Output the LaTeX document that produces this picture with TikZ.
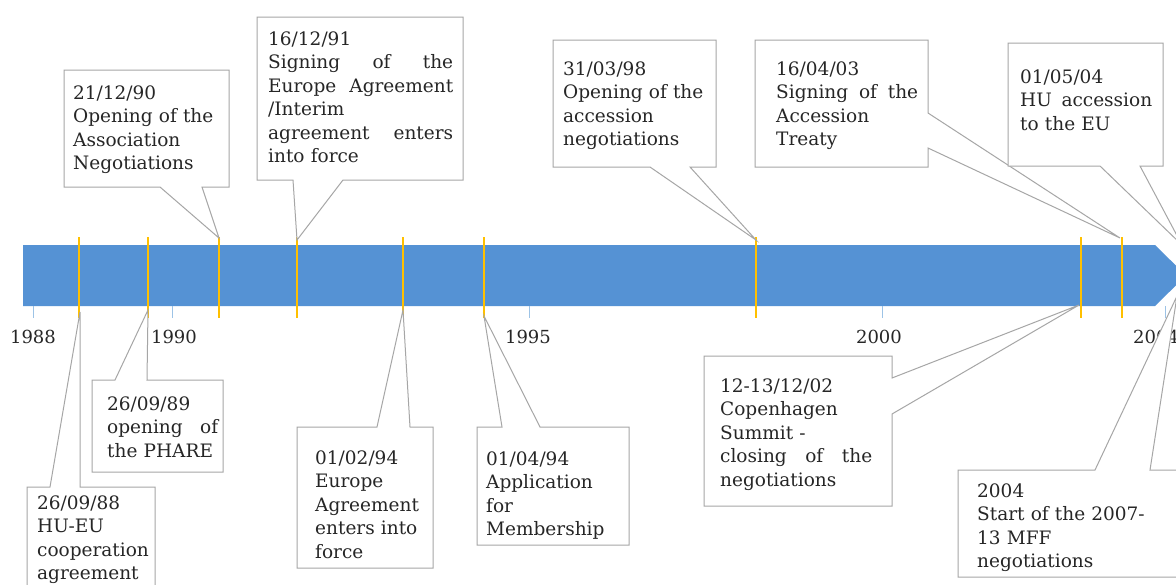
\documentclass[tikz,border=0pt]{standalone}
\usepackage{fontspec}
\setmainfont{DejaVu Serif}
\usetikzlibrary{calc}

\definecolor{barblue}{HTML}{5592D4}
\definecolor{eventyellow}{HTML}{FFC000}
\definecolor{calloutgray}{HTML}{A6A6A6}
\definecolor{textgray}{HTML}{262626}
\definecolor{tickblue}{HTML}{9DC3E6}

\tikzset{
  boxarea/.style={rectangle,inner sep=0pt,outer sep=0pt,anchor=north west},
  callout/.style={draw=calloutgray,fill=white,line width=1pt,line join=miter},
  boxtext/.style={anchor=base west,inner sep=0pt,align=left,text=textgray,
    font=\fontsize{18.5}{23.5}\selectfont},
  eventline/.style={draw=eventyellow,line width=1.6pt},
  yeartick/.style={draw=tickblue,line width=1pt},
  yearlabel/.style={inner sep=0pt,text=textgray,font=\fontsize{18}{22}\selectfont}
}

\begin{document}
\begin{tikzpicture}[x=1pt,y=-1pt]
  \useasboundingbox (0,0) rectangle (1176,584);
  \clip (0,0) rectangle (1176,584);
  \fill[white] (0,0) rectangle (1176,584);

  % time bar
  \fill[barblue] (23,245) -- (1155,245) -- (1186,275.5) -- (1155,306) -- (23,306) -- cycle;
  \foreach \x in {79,148,219,297,403,484,756,1081,1122}{
      \draw[eventline] (\x,237) -- (\x,318);
  }
  \foreach \x/\xl/\yr in {33/33/1988,172/174/1990,529/528/1995,882/879/2000,1165/1156/2004}{
      \draw[yeartick] (\x,306) -- (\x,318);
      \node[yearlabel] (y\yr) at (\xl,337) {\yr};
  }

  % event points
  \coordinate (p88) at (80,312);
  \coordinate (p89) at (148,310);
  \coordinate (p90) at (219,238);
  \coordinate (p91) at (297,240);
  \coordinate (p94a) at (403,310);
  \coordinate (p94b) at (484,316);
  \coordinate (p98) at (756,240);
  \coordinate (p02) at (1079,305);
  \coordinate (p03) at (1120,238);
  \coordinate (p04a) at (1182,245);
  \coordinate (p04b) at (1177,296);

  % callouts above the bar
  \node[boxarea,minimum width=165,minimum height=117] (b90) at (64,70) {};
  \draw[callout] (b90.north west) -| (b90.south east) -- ++(-27,0) -- (p90)
      -- ([xshift=96]b90.south west) -- (b90.south west) -- cycle;
  \node[boxtext,text width=150] (t90) at ([shift={(9,29)}]b90.north west)
      {21/12/90\\Opening of the\\Association\\Negotiations};

  \node[boxarea,minimum width=206,minimum height=163] (b91) at (257,17) {};
  \draw[callout] (b91.north west) -| (b91.south east) -- ++(-120,0) -- (p91)
      -- ([xshift=36]b91.south west) -- (b91.south west) -- cycle;
  \node[boxtext,text width=185] (t91) at ([shift={(11,28)}]b91.north west)
      {16/12/91\\Signing \hfill of \hfill the\\Europe \hfill Agreement\\/Interim\\agreement \hfill enters\\into force};

  \node[boxarea,minimum width=163,minimum height=127] (b98) at (553,40) {};
  \draw[callout] (b98.north west) -| (b98.south east) -- ++(-26,0) -- (p98)
      -- ([xshift=97]b98.south west) -- (b98.south west) -- cycle;
  \node[boxtext,text width=145] (t98) at ([shift={(10,35)}]b98.north west)
      {31/03/98\\Opening of the\\accession\\negotiations};

  \node[boxarea,minimum width=173,minimum height=127] (b03) at (755,40) {};
  \draw[callout] (b03.south west) |- (b03.north east) -- ([yshift=-73]b03.north east) -- (p03)
      -- ([yshift=19]b03.south east) -- (b03.south east) -- cycle;
  \node[boxtext,text width=142] (t03) at ([shift={(21,35)}]b03.north west)
      {16/04/03\\Signing \hfill of \hfill the\\Accession\\Treaty};

  \node[boxarea,minimum width=155,minimum height=123] (b04a) at (1008,43) {};
  \draw[callout] (b04a.north west) -| (b04a.south east) -- ++(-23,0) -- (p04a)
      -- ([xshift=92]b04a.south west) -- (b04a.south west) -- cycle;
  \node[boxtext,text width=132] (t04a) at ([shift={(12,40)}]b04a.north west)
      {01/05/04\\HU \hfill accession\\to the EU};

  % callouts below the bar
  \node[boxarea,minimum width=128,minimum height=120] (b88) at (27,487) {};
  \draw[callout] (b88.south west) -- (b88.north west) -- ++(23,0) -- (p88)
      -- ([xshift=53]b88.north west) -| (b88.south east) -- cycle;
  \node[boxtext,text width=116] (t88) at ([shift={(10,22)}]b88.north west)
      {26/09/88\\HU-EU\\cooperation\\agreement};

  \node[boxarea,minimum width=131,minimum height=92] (b89) at (92,380) {};
  \draw[callout] (b89.south west) -- (b89.north west) -- ++(23,0) -- (p89)
      -- ([xshift=55]b89.north west) -| (b89.south east) -- cycle;
  \node[boxtext,text width=111] (t89) at ([shift={(15,30)}]b89.north west)
      {26/09/89\\opening \hfill of\\the PHARE};

  \node[boxarea,minimum width=136,minimum height=141] (b94a) at (297,427) {};
  \draw[callout] (b94a.south west) -- (b94a.north west) -- ++(80,0) -- (p94a)
      -- ([xshift=113]b94a.north west) -| (b94a.south east) -- cycle;
  \node[boxtext,text width=110] (t94a) at ([shift={(18,37)}]b94a.north west)
      {01/02/94\\Europe\\Agreement\\enters into\\force};

  \node[boxarea,minimum width=152,minimum height=118] (b94b) at (477,427) {};
  \draw[callout] (b94b.south west) -- (b94b.north west) -- ++(25,0) -- (p94b)
      -- ([xshift=63]b94b.north west) -| (b94b.south east) -- cycle;
  \node[boxtext,text width=135] (t94b) at ([shift={(9,38)}]b94b.north west)
      {01/04/94\\Application\\for\\Membership};

  \node[boxarea,minimum width=188,minimum height=150] (b02) at (704,356) {};
  \draw[callout] (b02.south west) |- (b02.north east) -- ([yshift=-22]b02.north east) -- (p02)
      -- ([yshift=92]b02.south east) -- (b02.south east) -- cycle;
  \node[boxtext,text width=152] (t02) at ([shift={(16,36)}]b02.north west)
      {12-13/12/02\\Copenhagen\\Summit -\\closing \hfill of \hfill the\\negotiations};

  \node[boxarea,minimum width=250,minimum height=107] (b04b) at (958,470) {};
  \draw[callout] (b04b.south west) -- (b04b.north west) -- ++(137,0) -- (p04b)
      -- ([xshift=192]b04b.north west) -| (b04b.south east) -- cycle;
  \node[boxtext,text width=180] (t04b) at ([shift={(19,27)}]b04b.north west)
      {2004\\Start of the 2007-\\13 MFF\\negotiations};
\end{tikzpicture}
\end{document}
